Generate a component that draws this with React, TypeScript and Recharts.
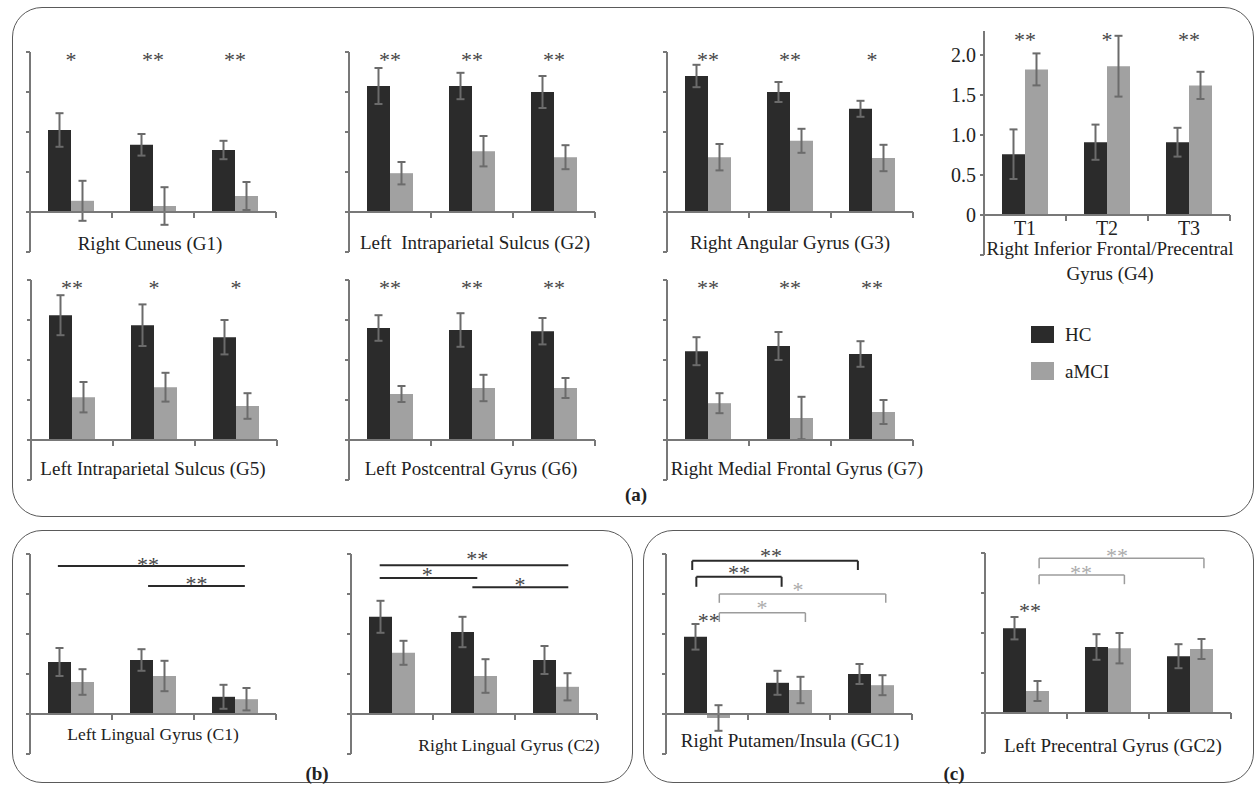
import { BarChart, Bar, XAxis, YAxis, ErrorBar, ReferenceLine, ReferenceDot } from 'recharts';

const SERIF = '"Liberation Serif", "Times New Roman", serif';

const HC_FILL = '#2b2b2b';
const MCI_FILL = '#a1a1a1';
const AXIS_GRAY = '#787878';
const ERR_GRAY = '#6b6b6b';
const STAR_DARK = '#454545';
const STAR_LIGHT = '#ababab';
const BRACKET_DARK = '#2a2a2a';
const BRACKET_LIGHT = '#9c9c9c';
const TEXT = '#222';
const STAR_SIZE = 22;

const PLOT_W = 246;

// time points shared by every region
const timePoints = ['T1', 'T2', 'T3'];
const groupEdges = [1, 2, 3];

// (a) HC vs aMCI
const g1HC = [2.05, 1.68, 1.55];
const g1HCErr = [0.42, 0.27, 0.23];
const g1MCI = [0.28, 0.15, 0.4];
const g1MCIErr = [0.5, 0.47, 0.35];
const g1Stars = ['*', '**', '**'];

const g2HC = [3.15, 3.15, 3.0];
const g2HCErr = [0.45, 0.33, 0.4];
const g2MCI = [0.97, 1.52, 1.37];
const g2MCIErr = [0.28, 0.38, 0.3];
const g2Stars = ['**', '**', '**'];

const g3HC = [3.4, 3.0, 2.58];
const g3HCErr = [0.28, 0.25, 0.2];
const g3MCI = [1.37, 1.78, 1.35];
const g3MCIErr = [0.33, 0.3, 0.33];
const g3Stars = ['**', '**', '*'];

const g4HC = [0.76, 0.91, 0.91];
const g4HCErr = [0.31, 0.22, 0.18];
const g4MCI = [1.82, 1.86, 1.62];
const g4MCIErr = [0.2, 0.38, 0.17];
const g4Stars = ['**', '*', '**'];
const g4Ticks = [-0.5, 0, 0.5, 1, 1.5, 2];

const g5HC = [3.12, 2.87, 2.57];
const g5HCErr = [0.5, 0.52, 0.43];
const g5MCI = [1.07, 1.32, 0.85];
const g5MCIErr = [0.38, 0.36, 0.32];
const g5Stars = ['**', '*', '*'];

const g6HC = [2.8, 2.75, 2.72];
const g6HCErr = [0.32, 0.42, 0.33];
const g6MCI = [1.15, 1.3, 1.3];
const g6MCIErr = [0.2, 0.33, 0.25];
const g6Stars = ['**', '**', '**'];

const g7HC = [2.22, 2.35, 2.15];
const g7HCErr = [0.35, 0.35, 0.32];
const g7MCI = [0.92, 0.55, 0.7];
const g7MCIErr = [0.25, 0.53, 0.3];
const g7Stars = ['**', '**', '**'];

// (b) change over time
const c1HC = [1.3, 1.35, 0.43];
const c1HCErr = [0.35, 0.27, 0.3];
const c1MCI = [0.8, 0.95, 0.37];
const c1MCIErr = [0.32, 0.38, 0.28];
const c1Brackets = [
  { x1: 0.34, x2: 2.62, y: 3.7, drop: 0 },
  { x1: 1.44, x2: 2.62, y: 3.2, drop: 0 },
];
const c1Marks = [
  { x: 1.44, y: 3.81, text: '**' },
  { x: 2.03, y: 3.32, text: '**' },
];

const c2HC = [2.43, 2.05, 1.35];
const c2HCErr = [0.4, 0.38, 0.35];
const c2MCI = [1.53, 0.95, 0.68];
const c2MCIErr = [0.3, 0.42, 0.34];
const c2Brackets = [
  { x1: 0.35, x2: 2.65, y: 3.72, drop: 0 },
  { x1: 0.35, x2: 1.54, y: 3.4, drop: 0 },
  { x1: 1.48, x2: 2.65, y: 3.17, drop: 0 },
];
const c2Marks = [
  { x: 1.54, y: 3.95, text: '**' },
  { x: 0.93, y: 3.55, text: '*' },
  { x: 2.06, y: 3.3, text: '*' },
];

// (c) group x time
const gc1HC = [1.93, 0.78, 1.0];
const gc1HCErr = [0.32, 0.3, 0.25];
const gc1MCI = [-0.1, 0.6, 0.72];
const gc1MCIErr = [0.32, 0.33, 0.25];
const gc1Brackets = [
  { x1: 0.32, x2: 2.34, y: 3.83, drop: 0.23 },
  { x1: 0.37, x2: 1.41, y: 3.43, drop: 0.25 },
  { x1: 0.65, x2: 2.68, y: 3.0, drop: 0.22, light: true },
  { x1: 0.65, x2: 1.7, y: 2.53, drop: 0.23, light: true },
];
const gc1Marks = [
  { x: 1.28, y: 4.02, text: '**' },
  { x: 0.89, y: 3.6, text: '**' },
  { x: 1.61, y: 3.18, text: '*', light: true },
  { x: 1.17, y: 2.72, text: '*', light: true },
  { x: 0.52, y: 2.4, text: '**' },
];

const gc2HC = [2.12, 1.65, 1.42];
const gc2HCErr = [0.28, 0.32, 0.3];
const gc2MCI = [0.55, 1.62, 1.6];
const gc2MCIErr = [0.25, 0.38, 0.25];
const gc2Brackets = [
  { x1: 0.66, x2: 2.67, y: 3.87, drop: 0.25, light: true },
  { x1: 0.66, x2: 1.7, y: 3.45, drop: 0.23, light: true },
];
const gc2Marks = [
  { x: 1.61, y: 4.0, text: '**', light: true },
  { x: 1.17, y: 3.58, text: '**', light: true },
  { x: 0.55, y: 2.62, text: '**' },
];

type Mark = { x: number; y: number; text: string; light?: boolean };
type Bracket = { x1: number; x2: number; y: number; drop: number; light?: boolean };

const starsAt = (stars: string[], level: number): Mark[] =>
  stars.map((text, i) => ({ x: i + 0.5, y: level, text }));

type ChartProps = {
  axisX: number;
  axisTop: number;
  hc: number[];
  hcErr: number[];
  mci: number[];
  mciErr: number[];
  domain?: [number, number];
  ticks?: number[];
  unit?: number;
  labelled?: boolean;
  marks: Mark[];
  brackets?: Bracket[];
};

const NoLabel = () => <g />;

const GroupChart = ({
  axisX,
  axisTop,
  hc,
  hcErr,
  mci,
  mciErr,
  domain = [-1, 4],
  ticks = [-1, 0, 1, 2, 3, 4],
  unit = 40,
  labelled = false,
  marks,
  brackets = [],
}: ChartProps) => {
  // slot = position of each time point on a 0..3 track, used by the annotations
  const rows = timePoints.map((name, i) => ({
    name,
    slot: i + 0.5,
    hc: hc[i],
    hcErr: hcErr[i],
    mci: mci[i],
    mciErr: mciErr[i],
  }));
  const yW = labelled ? 52 : 6;
  const top = 26;
  const right = 14;
  const bottom = 4;
  const xAxisH = 1;
  const plotH = (domain[1] - domain[0]) * unit;
  const drop = 6 / unit;

  return (
    <div style={{ position: 'absolute', left: axisX - yW, top: axisTop - top }}>
      <BarChart
        width={yW + PLOT_W + right}
        height={top + plotH + bottom + xAxisH}
        data={rows}
        margin={{ top, right, bottom, left: 0 }}
        barGap={0}
        barSize={23}
      >
        <XAxis
          dataKey="name"
          height={xAxisH}
          axisLine={false}
          tickLine={false}
          tickSize={0}
          tickMargin={0}
          interval={0}
          tick={
            labelled
              ? (t: any) => (
                  <text x={t.x} y={t.y - 20} textAnchor="middle" fontSize={20} fontFamily={SERIF} fill={TEXT}>
                    {t.payload.value}
                  </text>
                )
              : NoLabel
          }
        />
        <XAxis xAxisId="n" dataKey="slot" type="number" domain={[0, 3]} allowDataOverflow hide />
        <YAxis
          domain={domain}
          ticks={ticks}
          allowDataOverflow
          interval={0}
          width={yW}
          axisLine={{ stroke: AXIS_GRAY, strokeWidth: 2 }}
          tickLine={{ stroke: AXIS_GRAY, strokeWidth: 2 }}
          tickSize={4}
          tickMargin={4}
          tick={labelled ? { fontSize: 20, fontFamily: SERIF, fill: TEXT } : NoLabel}
          tickFormatter={(v: number) => (v < 0 ? '' : v === 0 ? '0' : v.toFixed(1))}
        />
        <Bar dataKey="hc" fill={HC_FILL} isAnimationActive={false}>
          <ErrorBar dataKey="hcErr" width={4} stroke={ERR_GRAY} strokeWidth={2} isAnimationActive={false} />
        </Bar>
        <Bar dataKey="mci" fill={MCI_FILL} isAnimationActive={false}>
          <ErrorBar dataKey="mciErr" width={4} stroke={ERR_GRAY} strokeWidth={2} isAnimationActive={false} />
        </Bar>
        <ReferenceLine y={0} stroke={AXIS_GRAY} strokeWidth={2} />
        {groupEdges.map((k) => (
          <ReferenceLine
            key={`edge-${k}`}
            xAxisId="n"
            segment={[
              { x: k, y: 0 },
              { x: k, y: -drop },
            ]}
            stroke={AXIS_GRAY}
            strokeWidth={2}
            ifOverflow="visible"
          />
        ))}
        {brackets.flatMap((b, i) => {
          const stroke = b.light ? BRACKET_LIGHT : BRACKET_DARK;
          const sw = b.light ? 1.5 : 2;
          const segs = [
            [
              { x: b.x1, y: b.y },
              { x: b.x2, y: b.y },
            ],
          ];
          if (b.drop) {
            segs.push(
              [
                { x: b.x1, y: b.y },
                { x: b.x1, y: b.y - b.drop },
              ],
              [
                { x: b.x2, y: b.y },
                { x: b.x2, y: b.y - b.drop },
              ],
            );
          }
          return segs.map((s, j) => (
            <ReferenceLine
              key={`br-${i}-${j}`}
              xAxisId="n"
              segment={s}
              stroke={stroke}
              strokeWidth={sw}
              ifOverflow="visible"
            />
          ));
        })}
        {marks.map((m, i) => (
          <ReferenceDot
            key={`mark-${i}`}
            xAxisId="n"
            x={m.x}
            y={m.y}
            r={0}
            ifOverflow="visible"
            shape={(d: any) => (
              <text
                x={d.cx}
                y={d.cy + 10}
                textAnchor="middle"
                fontSize={STAR_SIZE}
                fontFamily={SERIF}
                fill={m.light ? STAR_LIGHT : STAR_DARK}
              >
                {m.text}
              </text>
            )}
          />
        ))}
      </BarChart>
    </div>
  );
};

const Caption = ({ x, y, size = 19, bold = false, children }: any) => (
  <div
    style={{
      position: 'absolute',
      left: x,
      top: y,
      transform: 'translate(-50%, -50%)',
      whiteSpace: 'pre',
      fontSize: size,
      fontWeight: bold ? 700 : 400,
      lineHeight: 1,
      fontFamily: SERIF,
      color: TEXT,
    }}
  >
    {children}
  </div>
);

const Frame = ({ left, top, width, height }: any) => (
  <div
    style={{
      position: 'absolute',
      left,
      top,
      width,
      height,
      boxSizing: 'border-box',
      border: '1.5px solid #5a5a5a',
      borderRadius: 30,
    }}
  />
);

export default function App() {
  return (
    <div
      style={{
        position: 'absolute',
        left: 0,
        top: 0,
        width: 1257,
        height: 787,
        background: '#fff',
        overflow: 'hidden',
        fontFamily: SERIF,
      }}
    >
      <Frame left={12} top={7} width={1242} height={510} />
      <Frame left={12} top={530} width={621} height={253} />
      <Frame left={643} top={530} width={611} height={253} />

      <GroupChart axisX={30} axisTop={52} hc={g1HC} hcErr={g1HCErr} mci={g1MCI} mciErr={g1MCIErr} marks={starsAt(g1Stars, 3.88)} />
      <GroupChart axisX={349} axisTop={52} hc={g2HC} hcErr={g2HCErr} mci={g2MCI} mciErr={g2MCIErr} marks={starsAt(g2Stars, 3.88)} />
      <GroupChart axisX={667} axisTop={52} hc={g3HC} hcErr={g3HCErr} mci={g3MCI} mciErr={g3MCIErr} marks={starsAt(g3Stars, 3.88)} />
      <GroupChart
        axisX={984}
        axisTop={31}
        hc={g4HC}
        hcErr={g4HCErr}
        mci={g4MCI}
        mciErr={g4MCIErr}
        domain={[-0.5, 2.3]}
        ticks={g4Ticks}
        unit={80}
        labelled
        marks={starsAt(g4Stars, 2.22)}
      />
      <GroupChart axisX={31} axisTop={280} hc={g5HC} hcErr={g5HCErr} mci={g5MCI} mciErr={g5MCIErr} marks={starsAt(g5Stars, 3.88)} />
      <GroupChart axisX={349} axisTop={280} hc={g6HC} hcErr={g6HCErr} mci={g6MCI} mciErr={g6MCIErr} marks={starsAt(g6Stars, 3.88)} />
      <GroupChart axisX={667} axisTop={280} hc={g7HC} hcErr={g7HCErr} mci={g7MCI} mciErr={g7MCIErr} marks={starsAt(g7Stars, 3.88)} />

      <GroupChart axisX={30} axisTop={554} hc={c1HC} hcErr={c1HCErr} mci={c1MCI} mciErr={c1MCIErr} marks={c1Marks} brackets={c1Brackets} />
      <GroupChart axisX={351} axisTop={554} hc={c2HC} hcErr={c2HCErr} mci={c2MCI} mciErr={c2MCIErr} marks={c2Marks} brackets={c2Brackets} />
      <GroupChart axisX={666} axisTop={554} hc={gc1HC} hcErr={gc1HCErr} mci={gc1MCI} mciErr={gc1MCIErr} marks={gc1Marks} brackets={gc1Brackets} />
      <GroupChart axisX={985} axisTop={553} hc={gc2HC} hcErr={gc2HCErr} mci={gc2MCI} mciErr={gc2MCIErr} marks={gc2Marks} brackets={gc2Brackets} />

      <Caption x={150} y={243}>Right Cuneus (G1)</Caption>
      <Caption x={475} y={242}>Left  Intraparietal Sulcus (G2)</Caption>
      <Caption x={790} y={242}>Right Angular Gyrus (G3)</Caption>
      <Caption x={1110} y={248}>Right Inferior Frontal/Precentral</Caption>
      <Caption x={1110} y={273}>Gyrus (G4)</Caption>
      <Caption x={153} y={468}>Left Intraparietal Sulcus (G5)</Caption>
      <Caption x={471} y={468}>Left Postcentral Gyrus (G6)</Caption>
      <Caption x={797} y={468}>Right Medial Frontal Gyrus (G7)</Caption>
      <Caption x={153} y={735} size={17.5}>Left Lingual Gyrus (C1)</Caption>
      <Caption x={509} y={746} size={17.5}>Right Lingual Gyrus (C2)</Caption>
      <Caption x={790} y={740}>Right Putamen/Insula (GC1)</Caption>
      <Caption x={1113} y={745}>Left Precentral Gyrus (GC2)</Caption>

      <Caption x={636} y={494} bold>(a)</Caption>
      <Caption x={317} y={773} bold>(b)</Caption>
      <Caption x={954} y={773} bold>(c)</Caption>

      <div style={{ position: 'absolute', left: 1031, top: 326, width: 23, height: 17, background: HC_FILL }} />
      <div style={{ position: 'absolute', left: 1031, top: 362, width: 23, height: 18, background: MCI_FILL }} />
      <div style={{ position: 'absolute', left: 1065, top: 334, transform: 'translateY(-50%)', fontSize: 19, lineHeight: 1, color: TEXT }}>HC</div>
      <div style={{ position: 'absolute', left: 1065, top: 371, transform: 'translateY(-50%)', fontSize: 19, lineHeight: 1, color: TEXT }}>aMCI</div>
    </div>
  );
}
